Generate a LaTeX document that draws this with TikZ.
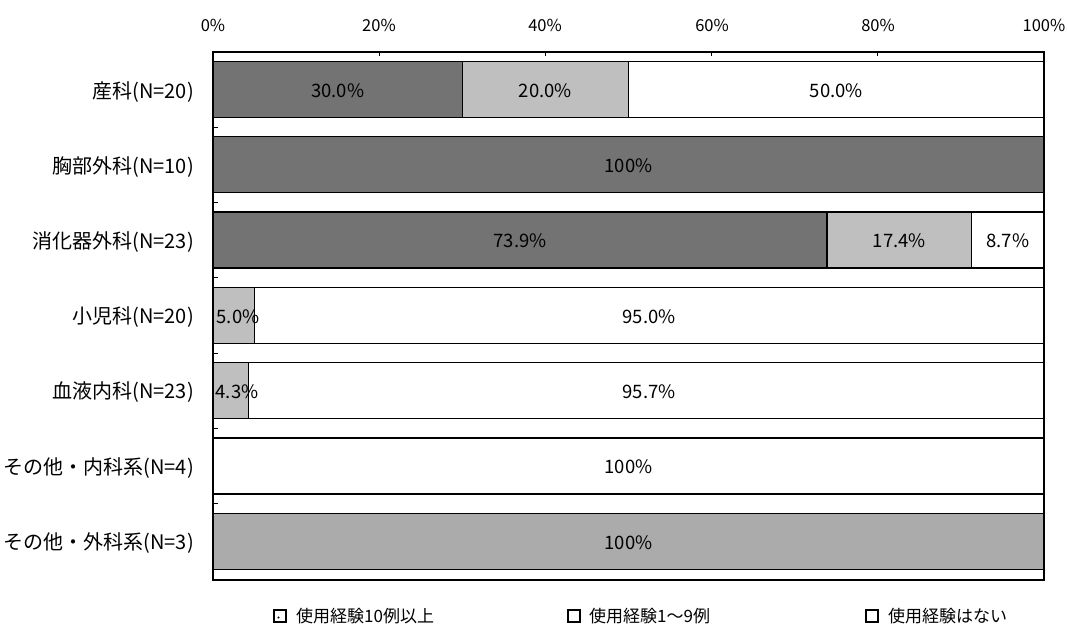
\documentclass[tikz,border=0pt]{standalone}
\usepackage{fontspec}
\setmainfont{Noto Sans CJK JP}
\tikzset{
  segline/.style={draw=black, line width=1.3pt},
  darkfill/.style={segline, fill=black!55},
  lightfill/.style={segline, fill=black!25},
  midfill/.style={segline, fill=black!33},
  whitefill/.style={segline, fill=white},
  barlbl/.style={inner sep=0pt, font=\fontsize{18.5}{22}\selectfont},
  catlbl/.style={anchor=east, inner sep=0pt, font=\fontsize{20}{24}\selectfont},
  axlbl/.style={inner sep=0pt, font=\fontsize{16.5}{20}\selectfont},
  leglbl/.style={anchor=west, inner sep=0pt, font=\fontsize{17}{21}\selectfont},
  legbox/.style={draw=black, line width=1.5pt, fill=white},
  frameline/.style={draw=black, line width=1.2pt},
}
\begin{document}
\begin{tikzpicture}[x=1pt, y=-1pt]
\useasboundingbox[fill=white] (0,0) rectangle (1068,628);
% frame
\draw[frameline] (213,52) rectangle (1044,580);
% top ticks
\foreach \p in {20,40,60,80} \draw[line width=0.8pt] ({213+8.31*\p},52) -- ({213+8.31*\p},56);
% left ticks between categories
\foreach \i in {1,...,6} \draw[line width=0.8pt] (213,{89.5+75.3*(\i-1)+37.65}) -- (218,{89.5+75.3*(\i-1)+37.65});
% axis labels
\node[axlbl] (a0) at (213,25) {0\%};
\node[axlbl] (a20) at (379,25) {20\%};
\node[axlbl] (a40) at (545,25) {40\%};
\node[axlbl] (a60) at (712,25) {60\%};
\node[axlbl] (a80) at (878,25) {80\%};
\node[axlbl] (a100) at (1044,25) {100\%};
% row 1
\draw[darkfill] (213,61.5) rectangle (462.3,117.5);
\draw[lightfill] (462.3,61.5) rectangle (628.5,117.5);
\draw[whitefill] (628.5,61.5) rectangle (1044,117.5);
\node[barlbl] (l11) at (337.6,91) {30.0\%};
\node[barlbl] (l12) at (545.4,91) {20.0\%};
\node[barlbl] (l13) at (836.3,91) {50.0\%};
\node[catlbl] (c1) at (194,92) {産科(N=20)};
% row 2
\draw[darkfill] (213,136.8) rectangle (1044,192.8);
\node[barlbl] (l21) at (628.5,166) {100\%};
\node[catlbl] (c2) at (194,167) {胸部外科(N=10)};
% row 3
\draw[darkfill] (213,212) rectangle (827.1,268);
\draw[lightfill] (827.1,212) rectangle (971.7,268);
\draw[whitefill] (971.7,212) rectangle (1044,268);
\node[barlbl] (l31) at (520,241) {73.9\%};
\node[barlbl] (l32) at (899.4,241) {17.4\%};
\node[barlbl] (l33) at (1007.9,241) {8.7\%};
\node[catlbl] (c3) at (194,242) {消化器外科(N=23)};
% row 4
\draw[whitefill] (213,287.4) rectangle (1044,343.4);
\draw[lightfill] (213,287.4) rectangle (254.6,343.4);
\node[barlbl] (l41) at (238,316.5) {5.0\%};
\node[barlbl] (l42) at (649,316.5) {95.0\%};
\node[catlbl] (c4) at (194,317.5) {小児科(N=20)};
% row 5
\draw[whitefill] (213,362.7) rectangle (1044,418.7);
\draw[lightfill] (213,362.7) rectangle (248.7,418.7);
\node[barlbl] (l51) at (237,391.5) {4.3\%};
\node[barlbl] (l52) at (649,391.5) {95.7\%};
\node[catlbl] (c5) at (194,392.5) {血液内科(N=23)};
% row 6
\draw[whitefill] (213,438) rectangle (1044,494);
\node[barlbl] (l61) at (628.5,467) {100\%};
\node[catlbl] (c6) at (194,468) {その他・内科系(N=4)};
% row 7
\draw[midfill] (213,513.3) rectangle (1044,569.3);
\node[barlbl] (l71) at (628.5,542.5) {100\%};
\node[catlbl] (c7) at (194,543.5) {その他・外科系(N=3)};
% legend
\draw[legbox] (274,610) rectangle (286,622);
\fill (278.5,617.5) circle (1.2pt);
\node[leglbl] (g1) at (296,616) {使用経験10例以上};
\draw[legbox] (568,610) rectangle (580,622);
\node[leglbl] (g2) at (589,616) {使用経験1～9例};
\draw[legbox] (866,610) rectangle (878,622);
\node[leglbl] (g3) at (888,616) {使用経験はない};
\end{tikzpicture}
\end{document}
